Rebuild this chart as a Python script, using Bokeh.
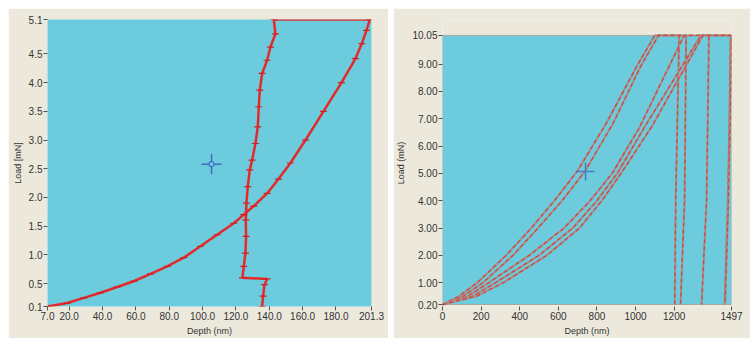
from bokeh.plotting import figure
from bokeh.layouts import row
from bokeh.models import Range1d, FixedTicker, Label, NumeralTickFormatter
from bokeh.embed import file_html
from bokeh.resources import INLINE

# ---------------- Panel (b) data ----------------
b_load_depth = [7.0, 18.8, 28.8, 38.8, 48.8, 58.7, 68.8, 78.8, 88.7, 98.7, 108.7,
                118.7, 124.7, 130.7, 138.7, 145.5, 152.7, 161.7, 172.5, 183.3,
                191.7, 195.5, 198.3, 200.3]
b_load = [0.10, 0.16, 0.25, 0.34, 0.44, 0.54, 0.67, 0.80, 0.95, 1.15, 1.35,
          1.55, 1.70, 1.85, 2.07, 2.32, 2.60, 3.00, 3.50, 4.00,
          4.42, 4.68, 4.91, 5.10]
b_hold_depth = [142.7]
b_hold_load = [5.10]
b_unload_depth = [143.7, 140.7, 138.7, 135.7, 134.3, 133.7, 133.1, 131.7, 129.7,
                  128.3, 127.1, 126.3, 125.9, 126.1, 125.7, 124.7, 123.9,
                  138.7, 137.1, 136.3, 135.7]
b_unload = [4.85, 4.62, 4.39, 4.16, 3.87, 3.58, 3.23, 2.94, 2.65,
            2.48, 2.19, 1.90, 1.61, 1.32, 1.03, 0.80, 0.60,
            0.58, 0.48, 0.28, 0.10]
b_xticks = [7.0, 20, 40, 60, 80, 100, 120, 140, 160, 180, 201.3]
b_yticks = [0.1, 0.5, 1.0, 1.5, 2.0, 2.5, 3.0, 3.5, 4.0, 4.5, 5.1]
b_cursor_depth = [105.4]
b_cursor_load = [2.58]

# ---------------- Panel (d) data ----------------
d_c1_depth = [0, 85, 180, 330, 460, 580, 700, 850, 1005, 1099, 1226, 1208, 1203]
d_c1_load = [0.2, 0.5, 1.0, 2.0, 3.0, 4.0, 5.1, 6.85, 8.9, 10.05, 10.05, 4.05, 0.2]
d_c2_depth = [0, 105, 210, 365, 495, 620, 740, 885, 1025, 1119, 1262, 1254, 1233]
d_c2_load = [0.2, 0.5, 1.0, 2.0, 3.0, 4.0, 5.1, 6.85, 8.9, 10.05, 10.05, 4.05, 0.2]
d_c3_depth = [0, 130, 240, 450, 630, 765, 879, 1022, 1145, 1252, 1380, 1368, 1342]
d_c3_load = [0.2, 0.5, 1.0, 2.0, 3.0, 4.0, 5.0, 6.7, 8.5, 10.05, 10.05, 4.05, 0.2]
d_c4_depth = [0, 155, 275, 500, 675, 800, 905, 1047, 1204, 1339, 1492, 1486, 1478, 1461]
d_c4_load = [0.2, 0.5, 1.0, 2.0, 3.0, 4.0, 5.0, 6.7, 8.5, 10.05, 10.05, 7.0, 4.05, 0.2]
d_c5_depth = [0, 175, 315, 540, 710, 825, 925, 1083, 1226, 1349, 1497, 1490, 1481, 1464]
d_c5_load = [0.2, 0.5, 1.0, 2.0, 3.0, 4.0, 5.0, 6.7, 8.5, 10.05, 10.05, 7.0, 4.05, 0.2]
d_xticks = [0, 200, 400, 600, 800, 1000, 1200, 1497]
d_yticks = [0.2, 1, 2, 3, 4, 5, 6, 7, 8, 9, 10.05]
d_cursor_depth = [741]
d_cursor_load = [5.07]

PLOT_BG = "#6ccbdc"
PANEL_BG = "#ece9dc"
FONT = "Liberation Sans"
TXT = "#333333"


def style(p, xticks, yticks, xfmt, yfmt, xlabel, ylabel):
    p.xaxis.ticker = FixedTicker(ticks=xticks)
    p.yaxis.ticker = FixedTicker(ticks=yticks)
    p.xaxis.formatter = NumeralTickFormatter(format=xfmt)
    p.yaxis.formatter = NumeralTickFormatter(format=yfmt)
    p.xaxis.axis_label = xlabel
    p.yaxis.axis_label = ylabel
    for ax in (p.xaxis, p.yaxis):
        ax.axis_line_color = None
        ax.major_tick_in = 0
        ax.major_tick_out = 4
        ax.major_tick_line_color = "#555555"
        ax.minor_tick_line_color = None
        ax.major_label_text_font = FONT
        ax.major_label_text_font_size = "10px"
        ax.major_label_text_color = TXT
        ax.major_label_standoff = 1
        ax.axis_label_text_font = FONT
        ax.axis_label_text_font_size = "9px"
        ax.axis_label_text_font_style = "normal"
        ax.axis_label_text_color = TXT
        ax.axis_label_standoff = 3
    p.grid.visible = False


# ---------------- Figure (b) ----------------
p1 = figure(width=380, height=330, x_range=Range1d(7.0, 201.3), y_range=Range1d(0.1, 5.1),
            output_backend="svg", toolbar_location=None,
            min_border_left=39, min_border_right=17, min_border_top=11, min_border_bottom=30,
            background_fill_color=PLOT_BG, border_fill_color=PANEL_BG)
p1.outline_line_color = None
style(p1, b_xticks, b_yticks, "0.0", "0.0", "Depth (nm)", "Load [mN]")

bx = b_load_depth + b_hold_depth + b_unload_depth
by = b_load + b_hold_load + b_unload
p1.line(bx, by, line_color="#e32a2a", line_width=2.5)
p1.scatter(bx, by, marker="dash", size=7, line_color="#d42020", line_width=1.2)
p1.scatter(b_cursor_depth, b_cursor_load, marker="cross", size=20, line_color="#3f6fc4", line_width=1.5)
p1.scatter(b_cursor_depth, b_cursor_load, marker="circle", size=5, fill_color=PLOT_BG,
           line_color="#3f6fc4", line_width=1.2)
p1.add_layout(Label(x=-15.2, y=5.1, text="(b)", text_align="left", text_baseline="middle",
                    text_font=FONT, text_font_size="10px", text_color=TXT))

# ---------------- Figure (d) ----------------
# frame shares top/bottom borders with (b) (row aligns frames); the cyan data area
# is the axis extent drawn as a quad, the range is padded so it sits 16px lower / 2px higher
d_px = 271 / (d_yticks[-1] - d_yticks[0])
p2 = figure(width=357, height=330, x_range=Range1d(d_xticks[0], d_xticks[-1]),
            y_range=Range1d(d_yticks[0] - 2 / d_px, d_yticks[-1] + 16 / d_px),
            output_backend="svg", toolbar_location=None,
            min_border_left=45, min_border_right=19, min_border_top=11, min_border_bottom=30,
            background_fill_color=PANEL_BG, border_fill_color=PANEL_BG)
p2.outline_line_color = None
style(p2, d_xticks, d_yticks, "0", "0.00", "Depth (nm)", "Load (mN)")
p2.quad(left=[d_xticks[0]], right=[d_xticks[-1]], bottom=[d_yticks[0]], top=[d_yticks[-1]],
        fill_color=PLOT_BG, line_color="#a9a9a0", line_width=1)

for xs, ys in [(d_c1_depth, d_c1_load), (d_c2_depth, d_c2_load), (d_c3_depth, d_c3_load),
               (d_c4_depth, d_c4_load), (d_c5_depth, d_c5_load)]:
    p2.line(xs, ys, line_color="#a58f8c", line_width=2.0)
    p2.line(xs, ys, line_color="#dc3f38", line_width=1.2, line_dash="4 3")
p2.scatter(d_cursor_depth, d_cursor_load, marker="cross", size=18, line_color="#4a7cc8", line_width=1.5)
p2.add_layout(Label(x=-225, y=10.05, text="(d)", text_align="left", text_baseline="middle",
                    text_font=FONT, text_font_size="10px", text_color=TXT))

layout = row(p1, p2, spacing=5, margin=(8, 0, 0, 8))
open("out.html", "w").write(file_html(layout, INLINE))
